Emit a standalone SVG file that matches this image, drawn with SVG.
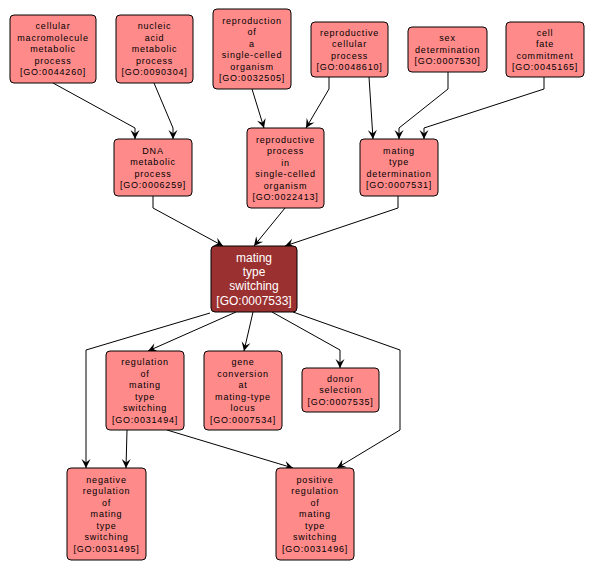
<svg xmlns="http://www.w3.org/2000/svg" width="595" height="571" viewBox="0 0 595 571">
<style>
.n rect{fill:#FF8A8A;stroke:#000;stroke-width:1}
.n text{font-family:"Liberation Sans",Arial,sans-serif;font-size:9px;letter-spacing:0.8px;fill:#000;text-anchor:middle}
.m rect{fill:#9B3030;stroke:#000;stroke-width:1}
.m text{font-family:"Liberation Sans",Arial,sans-serif;font-size:12px;fill:#fff;text-anchor:middle}
.e polyline{fill:none;stroke:#000;stroke-width:1;marker-end:url(#a)}
</style>
<defs>
<marker id="a" markerUnits="userSpaceOnUse" markerWidth="12" markerHeight="12" viewBox="-10 -6 12 12" refX="0" refY="0" orient="auto">
<path d="M0,0 L-9,-4.5 L-5.5,0 L-9,4.5 Z" fill="#000"/>
</marker>
</defs>
<rect width="595" height="571" fill="#fff"/>
<g id="edges" class="e">
<polyline points="53,83 135,128 135,139"/>
<polyline points="154,83 173,128 173,139"/>
<polyline points="252,89 264,128"/>
<polyline points="329,77 329,89 306,128"/>
<polyline points="369,77 373,139"/>
<polyline points="448,72 448,89 399,128 399,139"/>
<polyline points="544,77 544,89 424,128 424,139"/>
<polyline points="153,196 153,208 223,246"/>
<polyline points="285,208 254,246"/>
<polyline points="398,196 398,208 285,246"/>
<polyline points="210,313 86,350 86,468"/>
<polyline points="236,312 148,351"/>
<polyline points="253,312 244,351"/>
<polyline points="272,312 340,350 340,368"/>
<polyline points="293,312 400,350 400,430 337,468"/>
<polyline points="127,430 126,468"/>
<polyline points="167,430 293,468"/>
</g>
<g id="n1" class="n"><rect x="10" y="15" width="86" height="68" rx="4"/>
<text x="53" y="29.3">cellular</text><text x="53" y="40.8">macromolecule</text><text x="53" y="52.3">metabolic</text><text x="53" y="63.8">process</text><text x="53" y="75.3">[GO:0044260]</text></g>
<g id="n2" class="n"><rect x="116" y="15" width="77" height="68" rx="4"/>
<text x="154.5" y="29.3">nucleic</text><text x="154.5" y="40.8">acid</text><text x="154.5" y="52.3">metabolic</text><text x="154.5" y="63.8">process</text><text x="154.5" y="75.3">[GO:0090304]</text></g>
<g id="n3" class="n"><rect x="213" y="9" width="78" height="80" rx="4"/>
<text x="252" y="23.5">reproduction</text><text x="252" y="35">of</text><text x="252" y="46.5">a</text><text x="252" y="58">single-celled</text><text x="252" y="69.5">organism</text><text x="252" y="81">[GO:0032505]</text></g>
<g id="n4" class="n"><rect x="311" y="22" width="77" height="55" rx="4"/>
<text x="349.5" y="35.5">reproductive</text><text x="349.5" y="47">cellular</text><text x="349.5" y="58.5">process</text><text x="349.5" y="70">[GO:0048610]</text></g>
<g id="n5" class="n"><rect x="408" y="27" width="79" height="45" rx="4"/>
<text x="447.5" y="41.3">sex</text><text x="447.5" y="52.8">determination</text><text x="447.5" y="64.3">[GO:0007530]</text></g>
<g id="n6" class="n"><rect x="506" y="22" width="78" height="55" rx="4"/>
<text x="545" y="35.5">cell</text><text x="545" y="47">fate</text><text x="545" y="58.5">commitment</text><text x="545" y="70">[GO:0045165]</text></g>
<g id="n7" class="n"><rect x="114" y="139" width="78" height="57" rx="4"/>
<text x="153" y="153.5">DNA</text><text x="153" y="165">metabolic</text><text x="153" y="176.5">process</text><text x="153" y="188">[GO:0006259]</text></g>
<g id="n8" class="n"><rect x="247" y="128" width="77" height="80" rx="4"/>
<text x="285.5" y="142.5">reproductive</text><text x="285.5" y="154">process</text><text x="285.5" y="165.5">in</text><text x="285.5" y="177">single-celled</text><text x="285.5" y="188.5">organism</text><text x="285.5" y="200">[GO:0022413]</text></g>
<g id="n9" class="n"><rect x="360" y="139" width="78" height="57" rx="4"/>
<text x="399" y="153.5">mating</text><text x="399" y="165">type</text><text x="399" y="176.5">determination</text><text x="399" y="188">[GO:0007531]</text></g>
<g id="n10" class="m"><rect x="211" y="246" width="86" height="66" rx="4"/>
<text x="254" y="261.8">mating</text><text x="254" y="276.1">type</text><text x="254" y="290.4">switching</text><text x="254" y="304.7">[GO:0007533]</text></g>
<g id="n11" class="n"><rect x="106" y="351" width="78" height="79" rx="4"/>
<text x="145" y="365">regulation</text><text x="145" y="376.5">of</text><text x="145" y="388">mating</text><text x="145" y="399.5">type</text><text x="145" y="411">switching</text><text x="145" y="422.5">[GO:0031494]</text></g>
<g id="n12" class="n"><rect x="204" y="351" width="78" height="79" rx="4"/>
<text x="243" y="365">gene</text><text x="243" y="376.5">conversion</text><text x="243" y="388">at</text><text x="243" y="399.5">mating-type</text><text x="243" y="411">locus</text><text x="243" y="422.5">[GO:0007534]</text></g>
<g id="n13" class="n"><rect x="302" y="368" width="77" height="44" rx="4"/>
<text x="340.5" y="381.8">donor</text><text x="340.5" y="393.3">selection</text><text x="340.5" y="404.8">[GO:0007535]</text></g>
<g id="n14" class="n"><rect x="67" y="468" width="79" height="92" rx="4"/>
<text x="106.5" y="482.8">negative</text><text x="106.5" y="494.3">regulation</text><text x="106.5" y="505.8">of</text><text x="106.5" y="517.3">mating</text><text x="106.5" y="528.8">type</text><text x="106.5" y="540.3">switching</text><text x="106.5" y="551.8">[GO:0031495]</text></g>
<g id="n15" class="n"><rect x="276" y="468" width="78" height="92" rx="4"/>
<text x="315" y="482.8">positive</text><text x="315" y="494.3">regulation</text><text x="315" y="505.8">of</text><text x="315" y="517.3">mating</text><text x="315" y="528.8">type</text><text x="315" y="540.3">switching</text><text x="315" y="551.8">[GO:0031496]</text></g>
</svg>
